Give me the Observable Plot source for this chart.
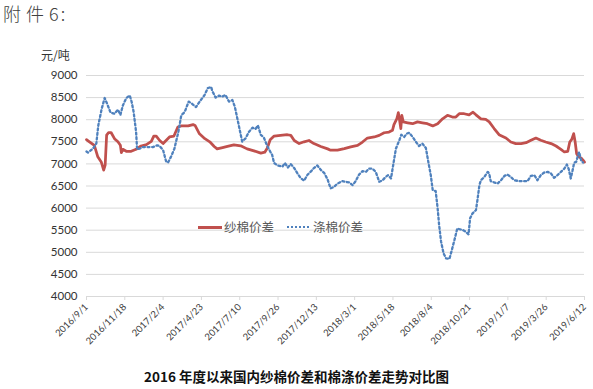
<!DOCTYPE html>
<html><head><meta charset="utf-8">
<script src="https://cdn.jsdelivr.net/npm/d3@7"></script>
<script src="https://cdn.jsdelivr.net/npm/@observablehq/plot@0.6"></script>
<style>
body{margin:0;background:#fff;width:593px;height:389px;overflow:hidden;position:relative;font-family:"Noto Sans CJK SC",sans-serif;}
#chart{position:absolute;left:0;top:0;}
.abs{position:absolute;white-space:nowrap;line-height:1;}
</style></head><body>
<div id="chart"></div>
<div class="abs" style="left:3px;top:4px;font-size:18px;letter-spacing:5px;color:#404040;font-weight:300">附件</div>
<div class="abs" style="left:49px;top:4px;font-size:18px;letter-spacing:2px;color:#404040;font-weight:300">6:</div>
<div class="abs" style="left:41px;top:49px;font-size:12px;color:#333">元/吨</div>
<div class="abs" style="left:198px;top:226px;width:24px;height:3px;background:#c0504d"></div>
<div class="abs" style="left:224px;top:221px;font-size:12.5px;color:#595959">纱棉价差</div>
<div class="abs" style="left:287px;top:226px;width:22px;height:0;border-top:2.5px dotted #4f81bd"></div>
<div class="abs" style="left:313px;top:221px;font-size:12.5px;color:#595959">涤棉价差</div>
<div class="abs" style="left:0;width:593px;top:370px;text-align:center;font-size:13.5px;font-weight:bold;color:#111">2016 年度以来国内纱棉价差和棉涤价差走势对比图</div>
<script>
const yTicks = [4000, 4500, 5000, 5500, 6000, 6500, 7000, 7500, 8000, 8500, 9000];
const xTickDates = ["2016-09-01","2016-11-18","2017-02-04","2017-04-23","2017-07-10","2017-09-26","2017-12-13","2018-03-01","2018-05-18","2018-08-04","2018-10-21","2019-01-07","2019-03-26","2019-06-12"];

// 纱棉价差 (yarn–cotton spread), yuan/ton
const yarnSpread = [
["2016-09-01",7550],["2016-09-07",7500],["2016-09-17",7420],["2016-09-24",7160],["2016-10-01",7045],
["2016-10-06",6860],["2016-10-09",6970],["2016-10-12",7650],["2016-10-16",7710],["2016-10-21",7710],
["2016-10-28",7570],["2016-11-04",7500],["2016-11-09",7420],["2016-11-11",7255],["2016-11-14",7330],
["2016-11-21",7285],["2016-12-01",7285],["2016-12-11",7330],["2016-12-21",7405],["2017-01-01",7435],
["2017-01-11",7510],["2017-01-16",7630],["2017-01-21",7630],["2017-01-28",7530],["2017-02-04",7460],
["2017-02-10",7530],["2017-02-17",7610],["2017-02-26",7630],["2017-03-06",7835],["2017-03-13",7860],
["2017-03-27",7860],["2017-04-06",7890],["2017-04-10",7870],["2017-04-19",7680],["2017-04-30",7570],
["2017-05-10",7500],["2017-05-19",7395],["2017-05-25",7340],["2017-06-05",7370],["2017-06-15",7395],
["2017-06-28",7430],["2017-07-12",7410],["2017-07-25",7340],["2017-08-08",7295],["2017-08-22",7245],
["2017-08-30",7265],["2017-09-04",7355],["2017-09-10",7545],["2017-09-18",7630],["2017-10-01",7645],
["2017-10-15",7660],["2017-10-22",7645],["2017-10-29",7530],["2017-11-08",7460],["2017-11-18",7500],
["2017-11-28",7530],["2017-12-08",7460],["2017-12-22",7395],["2018-01-05",7340],["2018-01-11",7310],
["2018-01-25",7310],["2018-02-08",7345],["2018-02-21",7385],["2018-03-07",7420],["2018-03-17",7495],
["2018-03-27",7585],["2018-04-10",7610],["2018-04-20",7645],["2018-04-30",7705],["2018-05-10",7720],
["2018-05-17",7760],["2018-05-20",7890],["2018-05-26",8025],["2018-05-29",8160],["2018-06-01",7950],
["2018-06-03",7800],["2018-06-05",8100],["2018-06-08",7950],["2018-06-17",7930],["2018-06-27",7910],
["2018-07-07",7950],["2018-07-17",7930],["2018-07-27",7910],["2018-08-07",7860],["2018-08-17",7910],
["2018-08-27",8020],["2018-09-06",8100],["2018-09-16",8060],["2018-09-23",8060],["2018-09-30",8135],
["2018-10-10",8135],["2018-10-20",8110],["2018-10-28",8170],["2018-11-03",8110],["2018-11-13",8020],
["2018-11-23",8005],["2018-11-30",7950],["2018-12-10",7800],["2018-12-20",7660],["2019-01-03",7585],
["2019-01-13",7495],["2019-01-23",7460],["2019-02-03",7460],["2019-02-13",7480],["2019-02-23",7535],
["2019-03-05",7585],["2019-03-15",7535],["2019-03-25",7495],["2019-04-05",7460],["2019-04-15",7405],
["2019-04-25",7330],["2019-05-02",7270],["2019-05-09",7285],["2019-05-13",7495],["2019-05-17",7555],
["2019-05-21",7685],["2019-05-24",7495],["2019-05-27",7230],["2019-05-31",7160],["2019-06-05",7135],
["2019-06-09",7085],["2019-06-12",7040]
];

// 涤棉价差 (polyester–cotton spread), yuan/ton
const polySpread = [
["2016-09-01",7280],["2016-09-04",7255],["2016-09-14",7345],["2016-09-21",7460],["2016-09-25",7870],
["2016-10-02",8250],["2016-10-08",8490],["2016-10-13",8360],["2016-10-20",8160],["2016-10-28",8135],
["2016-11-04",8230],["2016-11-09",8110],["2016-11-14",8320],["2016-11-21",8490],["2016-11-28",8550],
["2016-12-02",8400],["2016-12-06",8175],["2016-12-11",7720],["2016-12-13",7330],["2016-12-18",7345],
["2016-12-25",7380],["2017-01-04",7380],["2017-01-14",7380],["2017-01-23",7420],["2017-01-28",7405],
["2017-02-04",7310],["2017-02-10",7060],["2017-02-14",7030],["2017-02-20",7160],["2017-02-27",7345],
["2017-03-07",7720],["2017-03-13",8100],["2017-03-20",8175],["2017-03-28",8410],["2017-04-04",8360],
["2017-04-12",8285],["2017-04-21",8435],["2017-04-29",8550],["2017-05-06",8715],["2017-05-13",8740],
["2017-05-15",8650],["2017-05-22",8500],["2017-05-29",8545],["2017-06-04",8520],["2017-06-11",8560],
["2017-06-18",8410],["2017-06-25",8445],["2017-06-30",8295],["2017-07-05",8035],["2017-07-10",7770],
["2017-07-15",7505],["2017-07-22",7580],["2017-07-29",7730],["2017-08-05",7820],["2017-08-11",7790],
["2017-08-16",7870],["2017-08-22",7655],["2017-08-28",7600],["2017-09-03",7430],["2017-09-10",7280],
["2017-09-14",7205],["2017-09-18",7020],["2017-09-25",6965],["2017-10-05",6940],["2017-10-10",7020],
["2017-10-16",6920],["2017-10-22",6995],["2017-10-29",6905],["2017-11-04",6795],["2017-11-11",6680],
["2017-11-18",6620],["2017-11-25",6755],["2017-12-02",6830],["2017-12-08",6905],["2017-12-15",6965],
["2017-12-22",6865],["2017-12-29",6795],["2018-01-05",6645],["2018-01-11",6445],["2018-01-18",6480],
["2018-01-25",6555],["2018-02-04",6610],["2018-02-11",6595],["2018-02-18",6580],["2018-02-25",6520],
["2018-03-03",6610],["2018-03-10",6760],["2018-03-17",6835],["2018-03-24",6820],["2018-03-30",6895],
["2018-04-06",6895],["2018-04-13",6820],["2018-04-20",6595],["2018-04-27",6630],["2018-05-03",6705],
["2018-05-08",6745],["2018-05-14",6670],["2018-05-19",7010],["2018-05-24",7345],["2018-05-31",7535],
["2018-06-04",7660],["2018-06-10",7610],["2018-06-15",7685],["2018-06-20",7705],["2018-06-27",7610],
["2018-07-04",7495],["2018-07-10",7405],["2018-07-17",7460],["2018-07-24",7360],["2018-07-29",7045],
["2018-08-03",6745],["2018-08-07",6405],["2018-08-13",6385],["2018-08-17",5990],["2018-08-20",5615],
["2018-08-24",5240],["2018-08-29",4975],["2018-09-03",4865],["2018-09-10",4850],["2018-09-14",5015],
["2018-09-21",5315],["2018-09-26",5540],["2018-09-30",5525],["2018-10-07",5505],["2018-10-13",5465],
["2018-10-19",5405],["2018-10-22",5770],["2018-10-27",5880],["2018-11-03",5955],["2018-11-06",6180],
["2018-11-10",6520],["2018-11-13",6630],["2018-11-20",6705],["2018-11-27",6820],["2018-11-30",6780],
["2018-12-03",6610],["2018-12-10",6580],["2018-12-17",6555],["2018-12-24",6630],["2018-12-31",6730],
["2019-01-06",6760],["2019-01-13",6705],["2019-01-20",6630],["2019-01-30",6610],["2019-02-09",6610],
["2019-02-16",6610],["2019-02-23",6730],["2019-03-02",6745],["2019-03-08",6630],["2019-03-15",6745],
["2019-03-22",6805],["2019-03-29",6820],["2019-04-05",6780],["2019-04-11",6685],["2019-04-18",6745],
["2019-04-25",6820],["2019-05-02",6895],["2019-05-07",6985],["2019-05-11",6880],["2019-05-15",6670],
["2019-05-19",6865],["2019-05-22",7030],["2019-05-26",7045],["2019-05-29",7160],["2019-06-01",7270],
["2019-06-05",7085],["2019-06-09",7030]
];

const parse = d3.utcParse("%Y-%m-%d");
const fmt = d3.utcFormat("%Y/%-m/%-d");
const toRows = arr => arr.map(([d, v]) => ({date: parse(d), value: v}));
const yarn = toRows(yarnSpread);
const poly = toRows(polySpread);
const xTicks = xTickDates.map(parse);

const chart = Plot.plot({
  width: 593, height: 389,
  marginLeft: 86, marginRight: 9, marginTop: 75, marginBottom: 93,
  x: {type: "utc", domain: [xTicks[0], xTicks[xTicks.length - 1]]},
  y: {domain: [4000, 9000]},
  style: {fontFamily: "Lato, sans-serif", background: "transparent", color: "#333"},
  marks: [
    Plot.gridY(yTicks, {stroke: "#d9d9d9", strokeOpacity: 1}),
    Plot.axisY(yTicks, {tickSize: 0, tickPadding: 9, fontSize: 11.5, fill: "#333", label: null, tickFormat: d => String(d)}),
    Plot.axisX(xTicks, {tickSize: 4, tickPadding: 5, stroke: "#d9d9d9", tickRotate: -45, tickFormat: fmt, fontSize: 9.5, fill: "#404040", label: null}),
    Plot.line(yarn, {x: "date", y: "value", stroke: "#c0504d", strokeWidth: 2.75}),
    Plot.line(poly, {x: "date", y: "value", stroke: "#4f81bd", strokeWidth: 2.3, strokeDasharray: "2 2.6"})
  ]
});
document.getElementById("chart").appendChild(chart);
</script>
</body></html>
